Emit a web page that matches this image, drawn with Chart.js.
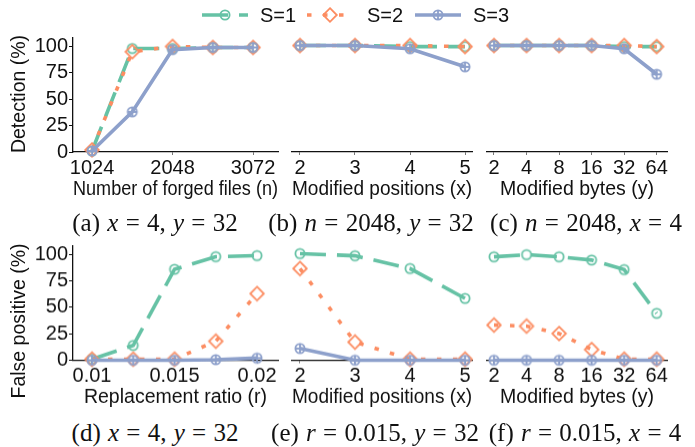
<!DOCTYPE html>
<html>
<head>
<meta charset="utf-8">
<script src="https://cdn.jsdelivr.net/npm/chart.js@4.4.1/dist/chart.umd.min.js"></script>
<style>
  html, body { margin: 0; padding: 0; background: #fff; }
  #page { position: relative; width: 695px; height: 447px; overflow: hidden;
          font-family: "Liberation Sans", Arial, sans-serif; color: #111; }
  .panel { position: absolute; }
  .ytitle { position: absolute; font-size: 19.5px; line-height: 1; white-space: nowrap;
            transform: translate(-50%, -50%) rotate(-90deg); }
  .caption { position: absolute; font-family: "Liberation Serif", "Times New Roman", serif;
             font-size: 25px; line-height: 1; white-space: nowrap; word-spacing: 1px;
             transform: translate(-50%, -50%); }
  .legend-text { position: absolute; font-size: 20px; line-height: 1; top: 5px; white-space: nowrap; }
  .legend-handle { position: absolute; top: 5px; }
</style>
</head>
<body>
<div id="page"></div>
<script>
// series
const seriesNames = ['S=1', 'S=2', 'S=3'];
const colors = ['#66c2a5', '#fc8d62', '#8da0cb'];
const yTicks = [0, 25, 50, 75, 100];

// (a) detection vs number of forged files
const forgedFiles = [1024, 1536, 2048, 2560, 3072];
const forgedTicks = [1024, 2048, 3072];
const forgedTickLabels = ['1024', '2048', '3072'];
const detFilesS1 = [1, 98, 98, 99, 99];
const detFilesS2 = [2, 95, 100, 99, 99];
const detFilesS3 = [1, 38, 97, 99, 99];

// (b) detection vs modified positions
const positions = [2, 3, 4, 5];
const positionLabels = ['2', '3', '4', '5'];
const detPosS1 = [100, 100, 99, 99];
const detPosS2 = [100, 100, 100, 99];
const detPosS3 = [100, 100, 97, 80];

// (c) detection vs modified bytes
const bytes = ['2', '4', '8', '16', '32', '64'];
const detBytesS1 = [100, 100, 100, 100, 99, 99];
const detBytesS2 = [100, 100, 100, 100, 100, 99];
const detBytesS3 = [100, 100, 100, 100, 97, 73];

// (d) false positive vs replacement ratio
const ratios = [0.01, 0.0125, 0.015, 0.0175, 0.02];
const ratioTicks = [0.01, 0.015, 0.02];
const ratioTickLabels = ['0.01', '0.015', '0.02'];
const fpRatioS1 = [1, 14, 86, 98, 99];
const fpRatioS2 = [1, 1, 1, 18, 63];
const fpRatioS3 = [0, 0, 0, 0.5, 2];

// (e) false positive vs modified positions
const fpPosS1 = [100, 98, 86, 58];
const fpPosS2 = [86, 17, 1, 1];
const fpPosS3 = [11, 0, 0, 0];

// (f) false positive vs modified bytes
const fpBytesS1 = [97, 99, 97, 94, 85, 44];
const fpBytesS2 = [33, 32, 25, 10, 1, 1];
const fpBytesS3 = [0, 0, 0, 0, 0, 0];

const page = document.getElementById('page');
const FONT = '"Liberation Sans", Arial, sans-serif';
const X_AXIS_H = 49;
const dashes = [[26, 11], [4.5, 11.5], []];

// hollow markers: circle, diamond, circled plus
function makeMarker(kind, color) {
    const c = document.createElement('canvas');
    c.width = 18; c.height = 18;
    const g = c.getContext('2d');
    g.strokeStyle = color;
    g.lineWidth = 1.8;
    g.beginPath();
    if (kind === 'diamond') {
        const r = 6.8;
        g.moveTo(9, 9 - r); g.lineTo(9 + r, 9); g.lineTo(9, 9 + r); g.lineTo(9 - r, 9);
        g.closePath();
    } else {
        const r = 4.6;
        g.arc(9, 9, r, 0, Math.PI * 2);
        if (kind === 'oplus') {
            g.moveTo(9 - r, 9); g.lineTo(9 + r, 9);
            g.moveTo(9, 9 - r); g.lineTo(9, 9 + r);
        }
    }
    g.stroke();
    return c;
}
const markers = [makeMarker('circle', colors[0]), makeMarker('diamond', colors[1]), makeMarker('oplus', colors[2])];

const byteIdx = bytes.map((b, i) => i);

const panels = [
    { box: [73, 37, 278, 152], yAxis: true, xs: forgedFiles, xMin: 782, xMax: 3390,
      xTicks: forgedTicks, xLabels: forgedTickLabels, xTitle: 'Number of forged files (n)',
      series: [detFilesS1, detFilesS2, detFilesS3] },
    { box: [292, 37, 472, 152], yAxis: false, xs: positions, xMin: 1.855, xMax: 5.127,
      xTicks: positions, xLabels: positionLabels, xTitle: 'Modified positions (x)',
      series: [detPosS1, detPosS2, detPosS3] },
    { box: [487, 37, 667, 152], yAxis: false, xs: byteIdx, xMin: -0.215, xMax: 5.317,
      xTicks: byteIdx, xLabels: bytes, xTitle: 'Modified bytes (y)',
      series: [detBytesS1, detBytesS2, detBytesS3] },
    { box: [73, 245, 278, 359.5], yAxis: true, xs: ratios, xMin: 0.00885, xMax: 0.02127,
      xTicks: ratioTicks, xLabels: ratioTickLabels, xTitle: 'Replacement ratio (r)',
      series: [fpRatioS1, fpRatioS2, fpRatioS3] },
    { box: [292, 245, 472, 359.5], yAxis: false, xs: positions, xMin: 1.855, xMax: 5.127,
      xTicks: positions, xLabels: positionLabels, xTitle: 'Modified positions (x)',
      series: [fpPosS1, fpPosS2, fpPosS3] },
    { box: [487, 245, 667, 359.5], yAxis: false, xs: byteIdx, xMin: -0.215, xMax: 5.317,
      xTicks: byteIdx, xLabels: bytes, xTitle: 'Modified bytes (y)',
      series: [fpBytesS1, fpBytesS2, fpBytesS3] }
];

function makeChart(p) {
    const [L, T, R, B] = p.box;
    const divLeft = p.yAxis ? 0 : L - 10;
    const div = document.createElement('div');
    div.className = 'panel';
    div.style.left = divLeft + 'px';
    div.style.top = (T - 12) + 'px';
    div.style.width = (R + 10 - divLeft) + 'px';
    div.style.height = (B - T + 12 + X_AXIS_H + 6) + 'px';
    const canvas = document.createElement('canvas');
    div.appendChild(canvas);
    page.appendChild(div);

    new Chart(canvas, {
        type: 'line',
        data: {
            datasets: p.series.map((vals, i) => ({
                label: seriesNames[i],
                data: vals.map((v, j) => ({ x: p.xs[j], y: v })),
                borderColor: colors[i],
                borderWidth: 3.6,
                borderDash: dashes[i],
                pointStyle: markers[i],
                pointRadius: 5,
                pointHoverRadius: 5,
                fill: false,
                tension: 0,
                clip: false,
                order: 3 - i
            }))
        },
        options: {
            responsive: true,
            maintainAspectRatio: false,
            animation: false,
            events: [],
            layout: { autoPadding: false, padding: { left: p.yAxis ? 0 : 10, top: 12, right: 10, bottom: 6 } },
            plugins: { legend: { display: false }, tooltip: { enabled: false } },
            scales: {
                x: {
                    type: 'linear',
                    min: p.xMin,
                    max: p.xMax,
                    afterBuildTicks: s => { s.ticks = p.xTicks.map(v => ({ value: v })); },
                    afterFit: s => { s.height = X_AXIS_H; },
                    ticks: {
                        callback: (v, i) => p.xLabels[i],
                        font: { family: FONT, size: 20 },
                        color: '#111',
                        padding: 1,
                        maxRotation: 0,
                        autoSkip: false
                    },
                    grid: { drawOnChartArea: false, drawTicks: true, tickLength: 3, tickColor: '#777', tickWidth: 1 },
                    border: { display: true, color: '#111', width: 1.3 },
                    title: { display: true, text: p.xTitle, font: { family: FONT, size: 19.5 }, color: '#111', padding: 0 }
                },
                y: {
                    display: p.yAxis,
                    min: 0,
                    max: 108,
                    afterBuildTicks: s => { s.ticks = yTicks.map(v => ({ value: v })); },
                    afterFit: s => { s.width = p.yAxis ? L : 0; },
                    ticks: { font: { family: FONT, size: 20 }, color: '#111', padding: 1 },
                    grid: { drawOnChartArea: false, drawTicks: true, tickLength: 4, tickColor: '#111', tickWidth: 1 },
                    border: { display: true, color: '#111', width: 1.3 }
                }
            }
        }
    });
}
panels.forEach(makeChart);

// y axis titles
[['Detection (%)', 19, 94], ['False positive (%)', 19, 321]].forEach(([txt, x, y]) => {
    const d = document.createElement('div');
    d.className = 'ytitle';
    d.style.left = x + 'px';
    d.style.top = y + 'px';
    d.textContent = txt;
    page.appendChild(d);
});

// sub-figure captions
const captions = [
    ['(a) <i>x</i> = 4, <i>y</i> = 32', 155, 222],
    ['(b) <i>n</i> = 2048, <i>y</i> = 32', 371, 222],
    ['(c) <i>n</i> = 2048, <i>x</i> = 4', 586, 222],
    ['(d) <i>x</i> = 4, <i>y</i> = 32', 155, 432],
    ['(e) <i>r</i> = 0.015, <i>y</i> = 32', 375, 432],
    ['(f) <i>r</i> = 0.015, <i>x</i> = 4', 585, 432]
];
captions.forEach(([html, x, y]) => {
    const d = document.createElement('div');
    d.className = 'caption';
    d.style.left = x + 'px';
    d.style.top = y + 'px';
    d.innerHTML = html;
    page.appendChild(d);
});

// shared legend on top
const legendHandleLeft = [202, 307, 415];
const legendTextLeft = [260, 367, 473];
seriesNames.forEach((name, i) => {
    const c = document.createElement('canvas');
    c.width = 46; c.height = 20;
    c.className = 'legend-handle';
    c.style.left = legendHandleLeft[i] + 'px';
    const g = c.getContext('2d');
    g.strokeStyle = colors[i];
    g.lineWidth = 3.6;
    g.setLineDash(dashes[i]);
    g.beginPath(); g.moveTo(0, 10); g.lineTo(46, 10); g.stroke();
    g.setLineDash([]);
    g.drawImage(markers[i], 23 - 9, 10 - 9);
    page.appendChild(c);

    const t = document.createElement('div');
    t.className = 'legend-text';
    t.style.left = legendTextLeft[i] + 'px';
    t.textContent = name;
    page.appendChild(t);
});
</script>
</body>
</html>
